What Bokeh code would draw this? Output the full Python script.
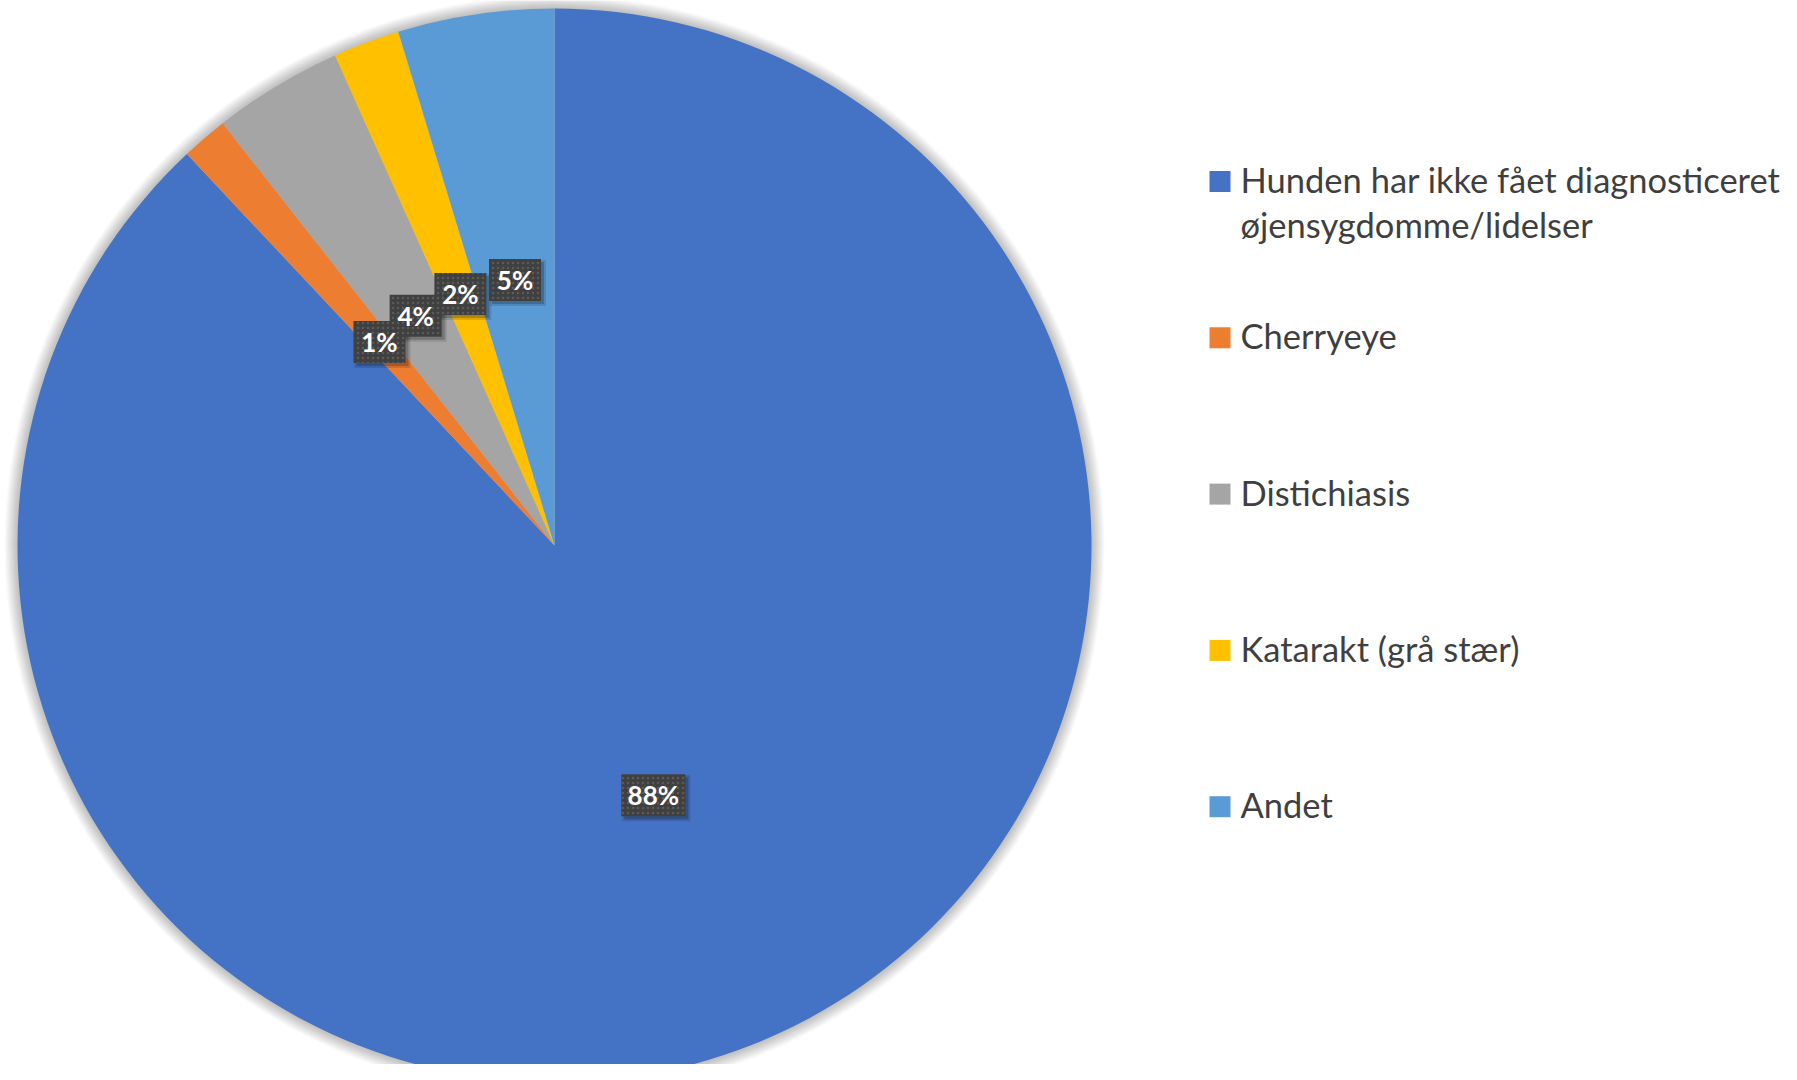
import numpy as np
from bokeh.plotting import figure
from bokeh.models import ColumnDataSource, Range1d
from bokeh.core.properties import value
from bokeh.embed import file_html
from bokeh.resources import INLINE

# ---- data ----
categories = [
    "Hunden har ikke fået diagnosticeret\nøjensygdomme/lidelser",
    "Cherryeye",
    "Distichiasis",
    "Katarakt (grå stær)",
    "Andet",
]
shares = [88.0, 1.4, 3.9, 2.0, 4.7]
palette = ["#4472C4", "#ED7D31", "#A5A5A5", "#FFC000", "#5B9BD5"]

# ---- layout ----
W, H = 1781, 1064
CX, CY = 554, 545          # pie centre, pixels from top-left of figure
R = 537

p = figure(width=W, height=H,
           x_range=Range1d(-CX, W - CX), y_range=Range1d(CY - H, CY),
           output_backend="svg", toolbar_location=None,
           x_axis_location=None, y_axis_location=None,
           min_border=0, outline_line_color=None)
p.xgrid.visible = False
p.ygrid.visible = False
p.background_fill_color = "white"

# soft outer shadow of the pie
for k in range(1, 14):
    p.circle(x=0, y=0, radius=R + k, fill_color="black", fill_alpha=0.018, line_color=None)

frac = np.array(shares) / sum(shares)
cum = np.concatenate([[0.0], np.cumsum(frac)])
start = np.pi / 2 - cum[:-1] * 2 * np.pi
end = np.pi / 2 - cum[1:] * 2 * np.pi
mid = (start + end) / 2

src = ColumnDataSource(dict(start=start, end=end, color=palette))
p.wedge(x=0, y=0, radius=R, start_angle="start", end_angle="end", direction="clock",
        fill_color="color", line_color=None, source=src)

# ---- data labels ----
texts = [f"{round(s)}%" for s in shares]
lr = 0.5 * R
lx = lr * np.cos(mid)
ly = lr * np.sin(mid)
bw = [28 + 12 * len(t) for t in texts]
lab = ColumnDataSource(dict(x=lx, y=ly, sx=lx + 3, sy=ly - 3, w=bw,
                            w2=[b + 4 for b in bw], t=texts))
p.rect(x="sx", y="sy", width="w2", height=46, width_units="screen", height_units="screen",
       fill_color="black", fill_alpha=0.12, line_color=None, source=lab)
p.rect(x="sx", y="sy", width="w", height=42, width_units="screen", height_units="screen",
       fill_color="black", fill_alpha=0.2, line_color=None, source=lab)
p.rect(x="x", y="y", width="w", height=42, width_units="screen", height_units="screen",
       fill_color="#404040", line_color=None, hatch_pattern="dot", hatch_color="#5a5a5a",
       hatch_scale=5, hatch_weight=1, source=lab)
p.text(x="x", y="y", text="t", text_align="center", text_baseline="middle",
       text_font=value("Lato"), text_font_style="bold", text_font_size="26px",
       text_color="white", source=lab)

# ---- legend ----
LX0 = 1209 - CX      # legend square left edge
LY0 = CY - 181       # first item centre
STEP = 156.3
LINE = 45
sq_x, sq_y, tx, ty, tt = [], [], [], [], []
for i, (c, col) in enumerate(zip(categories, palette)):
    yc = LY0 - i * STEP
    sq_x.append(LX0 + 10.5)
    sq_y.append(yc)
    for j, line in enumerate(c.split("\n")):
        tx.append(LX0 + 31)
        ty.append(yc + 2 - j * LINE)
        tt.append(line)
p.rect(x=sq_x, y=sq_y, width=21, height=21, width_units="screen", height_units="screen",
       fill_color=palette, line_color=None)
p.text(x=tx, y=ty, text=tt, text_align="left", text_baseline="middle",
       text_font=value("Lato"), text_font_size="34.5px", text_color="#3f3f3f")

open("out.html", "w").write(file_html(p, INLINE))
